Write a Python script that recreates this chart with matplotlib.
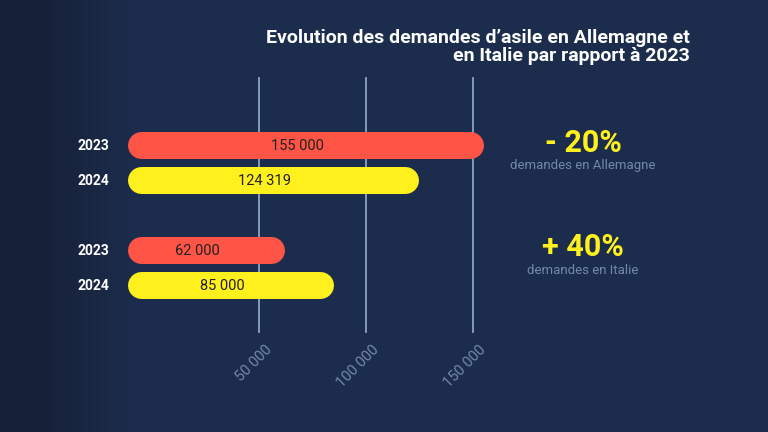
import numpy as np
import matplotlib
matplotlib.use("Agg")
import matplotlib.pyplot as plt

years = ["2023", "2024", "2023", "2024"]
values = [155000, 124319, 62000, 85000]
value_labels = ["155 000", "124 319", "62 000", "85 000"]
colors = ["#ff5446", "#fff01e", "#ff5446", "#fff01e"]
ticks = [50000, 100000, 150000]
tick_labels = ["50 000", "100 000", "150 000"]

plt.rcParams['font.family'] = ['Roboto', 'DejaVu Sans']

W, H = 768, 432
fig = plt.figure(figsize=(7.68, 4.32), dpi=100)
ax = fig.add_axes([0, 0, 1, 1])
ax.set_axis_off()

# pixel <-> value mapping: 0 at px 152, 50 000 = 107 px
scale = 107 / 50000
x0 = 152
ax.set_xlim(-x0 / scale, (W - x0) / scale)
ax.set_ylim(H, 0)

# background with darker left side
xs = np.linspace(0, 1, 200)
grad = np.ones((10, 200)) * np.clip((xs - 0.05) / 0.12, 0, 1)
c1 = np.array([0x16, 0x20, 0x38]) / 255
c2 = np.array([0x1c, 0x2c, 0x4c]) / 255
img = c1[None, None, :] * (1 - grad[..., None]) + c2[None, None, :] * grad[..., None]
ax.imshow(img, extent=[-x0 / scale, (W - x0) / scale, H, 0], aspect='auto', zorder=0)

for t, lab in zip(ticks, tick_labels):
    ax.plot([t, t], [78, 332], color="#8ea3c4", lw=1.3, zorder=1)
    ax.text(t + 6 / scale, 343, lab, rotation=45, ha='right', va='top',
            color="#7488ab", fontsize=10.5, rotation_mode='anchor', zorder=2)

ys = [145, 180, 250, 285]
r = 13.5  # px
lw = 2 * r * 72 / 100
left = 127
for y, v, lab, c, yr in zip(ys, values, value_labels, colors, years):
    right = x0 + v * scale
    ax.plot([(left + r - x0) / scale, (right - r - x0) / scale], [y, y],
            color=c, lw=lw, solid_capstyle='round', zorder=3)
    mid = ((left + right) / 2 - 8 - x0) / scale
    ax.text(mid, y + 1, lab, ha='center', va='center', fontsize=10.5,
            color="#222222", zorder=4)
    ax.text((93 - x0) / scale, y + 1, yr, ha='center', va='center', fontsize=10,
            color="white", fontweight='bold', zorder=4)

ax.text((690 - x0) / scale, 47, "Evolution des demandes d\u2019asile en Allemagne et\nen Italie par rapport à 2023",
        ha='right', va='center', color="white", fontsize=14, fontweight='bold',
        linespacing=1.0, zorder=4)

ax.text((583 - x0) / scale, 143, "- 20%", ha='center', va='center', color="#fff01e",
        fontsize=22, fontweight='bold', zorder=4)
ax.text((583 - x0) / scale, 165, "demandes en Allemagne", ha='center', va='center',
        color="#7488ab", fontsize=9.5, zorder=4)
ax.text((583 - x0) / scale, 247, "+ 40%", ha='center', va='center', color="#fff01e",
        fontsize=22, fontweight='bold', zorder=4)
ax.text((583 - x0) / scale, 270, "demandes en Italie", ha='center', va='center',
        color="#7488ab", fontsize=9.5, zorder=4)

fig.savefig("out.png", dpi=100)
